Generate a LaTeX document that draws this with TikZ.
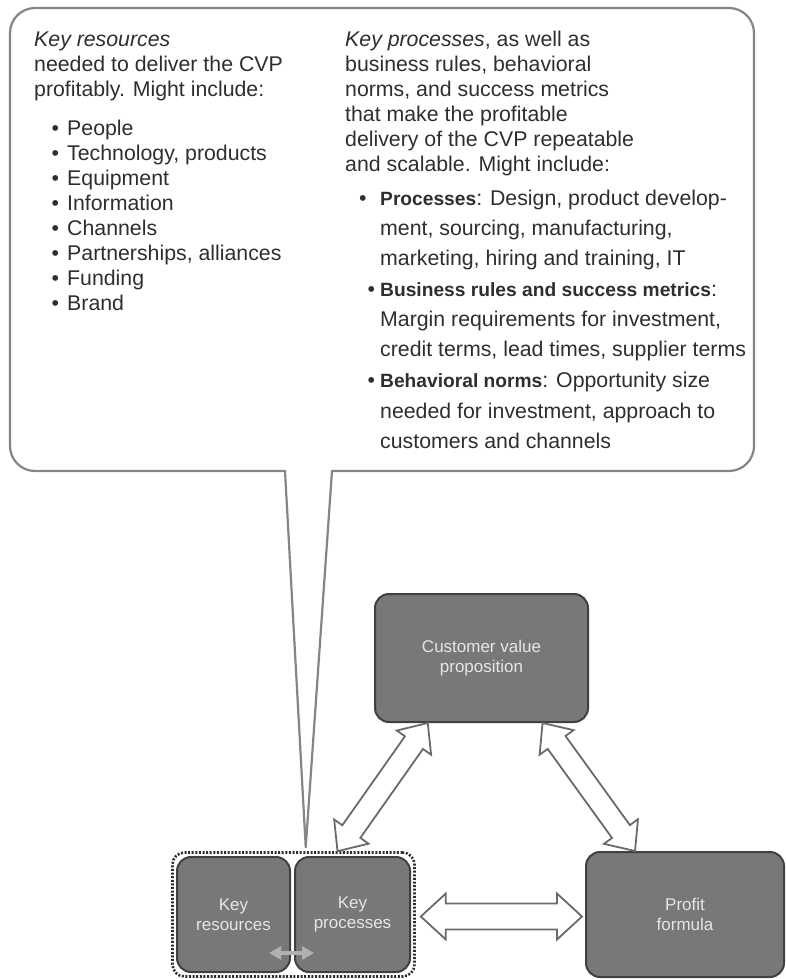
\documentclass[tikz,border=0pt]{standalone}
\usepackage{fontspec}
\setmainfont{Liberation Sans}
\usetikzlibrary{calc,fit,arrows.meta}

\definecolor{ink}{HTML}{2E2E2E}
\definecolor{boxfill}{HTML}{78787B}
\definecolor{boxedge}{HTML}{404041}
\definecolor{boxtext}{HTML}{E6E6E6}
\definecolor{calloutgray}{HTML}{858585}
\definecolor{hollowedge}{HTML}{6A6A6A}
\definecolor{linkgray}{HTML}{B0B0B0}

% bold run-in label inside the bullet text
\newcommand\keylabel[1]{{\fontsize{19.2}{25}\selectfont\bfseries #1}}

% hollow double-headed block arrow between two points
% #1 from, #2 to, #3 shaft half width, #4 head half width, #5 head length
\newcommand\fatarrow[5]{%
  \draw[hollow] let \p1=(#1), \p2=(#2),
      \n1={atan2(\y2-\y1,\x2-\x1)}, \n2={veclen(\x2-\x1,\y2-\y1)} in
    [shift={(\p1)}, rotate=\n1]
    (0,0) -- (#5,#4) -- (#5,#3) -- ({\n2-#5},#3) -- ({\n2-#5},#4) -- (\n2,0)
    -- ({\n2-#5},-#4) -- ({\n2-#5},-#3) -- (#5,-#3) -- (#5,-#4) -- cycle;
}

\begin{document}
\begin{tikzpicture}[x=1pt,y=-1pt,
  txt/.style={anchor=base west, inner sep=0, text=ink,
              font=\fontsize{21.3}{25}\selectfont},
  box/.style={rectangle, rounded corners=14, draw=boxedge, line width=2,
              fill=boxfill, text=boxtext, align=center, inner sep=0,
              font=\fontsize{17}{19.5}\selectfont},
  grpbox/.style={rectangle, rounded corners=12, draw=ink, line width=2.6,
                 dash pattern=on 2pt off 1.6pt},
  calloutline/.style={draw=calloutgray, line width=2.2, line cap=round, line join=round},
  hollow/.style={draw=hollowedge, fill=white, line width=1.8, line join=miter},
  smalllink/.style={draw=linkgray, line width=4,
                    {Triangle[length=12pt,width=13pt]}-{Triangle[length=12pt,width=13pt]}}
]
\useasboundingbox (0,0) rectangle (786,979);

% ---- the four building blocks ----
\node[box, minimum width=213, minimum height=128] (cvp) at (481.5,658)
  {Customer value\\proposition};
\node[box, minimum width=113, minimum height=115] (kr) at (233.5,914.5)
  {Key\\resources};
\node[box, minimum width=115, minimum height=115] (kp) at (352.5,914.5)
  {Key\\processes};
\node[box, minimum width=198, minimum height=125] (pf) at (685,914.5)
  {Profit\\formula};
\node[grpbox, fit=(kr)(kp), inner sep=3.5] (grp) {};

% ---- callout balloon ----
\coordinate (cl) at (285,471);
\coordinate (cr) at (332,471);
\coordinate (tip) at ($(grp.north west)!0.55!(grp.north east)+(0,-4)$);
\draw[calloutline, rounded corners=25]
  (cl) -- (10,471) -- (10,8) -- (754,8) -- (754,471) -- (cr);
\draw[calloutline] (cl) -- (tip) -- (cr);

% left column
\node[txt] (lr1) at (34,47) {\textit{Key resources}};
\node[txt] (lr2) at (34,72) {needed to deliver the CVP};
\node[txt] (lr3) at (34,97) {profitably. Might include:};
\foreach \t [count=\i] in {People, {Technology, products}, Equipment,
    Information, Channels, {Partnerships, alliances}, Funding, Brand} {
  \node[txt] (lbd\i) at (51.5,{110.5+25*\i}) {\textbullet};
  \node[txt] (lb\i) at (67,{110.5+25*\i}) {\t};
}

% right column
\node[txt] (rp1) at (345,46.5) {\textit{Key processes}, as well as};
\node[txt] (rp2) at (345,71.5) {business rules, behavioral};
\node[txt] (rp3) at (345,96.5) {norms, and success metrics};
\node[txt] (rp4) at (345,121.5) {that make the profitable};
\node[txt] (rp5) at (345,146.5) {delivery of the CVP repeatable};
\node[txt] (rp6) at (345,171.5) {and scalable. Might include:};

\node[txt] (rbd1) at (359,205.5) {\textbullet};
\node[txt] (rb1) at (380,205.5) {\keylabel{Processes}: Design, product develop-};
\node[txt] (rb2) at (380,235.5) {ment, sourcing, manufacturing,};
\node[txt] (rb3) at (380,265.5) {marketing, hiring and training, IT};
\node[txt] (rbd2) at (367.5,296.5) {\textbullet};
\node[txt] (rb4) at (380,296.5) {\keylabel{Business rules and success metrics}:};
\node[txt] (rb5) at (380,326.5) {Margin requirements for investment,};
\node[txt] (rb6) at (380,356.5) {credit terms, lead times, supplier terms};
\node[txt] (rbd3) at (367.5,387.5) {\textbullet};
\node[txt] (rb7) at (380,387.5) {\keylabel{Behavioral norms}: Opportunity size};
\node[txt] (rb8) at (380,418.5) {needed for investment, approach to};
\node[txt] (rb9) at (380,448.5) {customers and channels};

% ---- connections ----
\coordinate (a1) at ($(grp.north west)!0.68!(grp.north east)$);
\coordinate (a2) at ($(cvp.south west)!0.25!(cvp.south east)$);
\coordinate (b1) at ($(cvp.south west)!0.784!(cvp.south east)$);
\coordinate (b2) at ($(pf.north west)!0.25!(pf.north east)$);
\coordinate (c1) at ($(grp.east)+(5,2)$);
\coordinate (c2) at ($(pf.west)+(-3,2)$);
\fatarrow{a1}{a2}{11}{21}{24}
\fatarrow{b1}{b2}{11}{21}{24}
\fatarrow{c1}{c2}{13}{23}{25}

\coordinate (s1) at ($(kr.south east)+(-22,-20)$);
\coordinate (s2) at ($(kp.south west)+(20,-20)$);
\draw[smalllink] (s1) -- (s2);
\end{tikzpicture}
\end{document}
